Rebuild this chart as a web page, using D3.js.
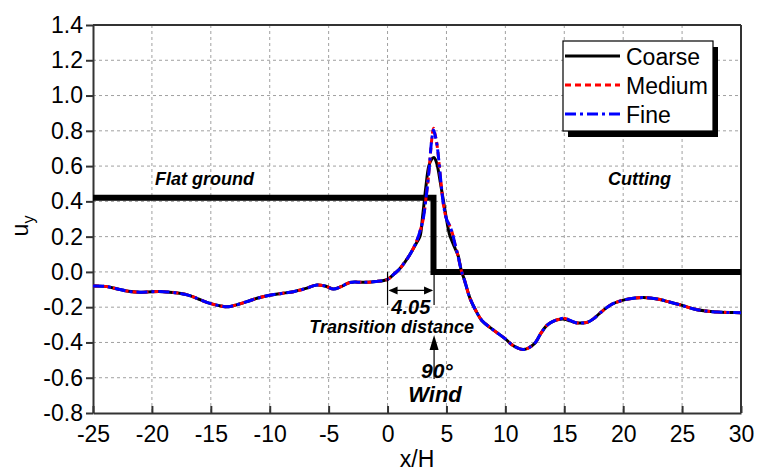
<!DOCTYPE html>
<html><head><meta charset="utf-8">
<script src="https://cdn.jsdelivr.net/npm/d3@7"></script>
<style>body{margin:0;background:#fff} svg{display:block} text{font-family:"Liberation Sans",Arial,Helvetica,sans-serif}</style>
</head><body><svg id="c" width="758" height="473"></svg>
<script>
// ---- data ----
const xValues = [-25,-24,-23,-22,-21,-20,-19,-18,-17,-16,-15,-14,-13.5,-13,-12,-11,-10,-9,-8,-7,-6,-5.3,-4.6,-4,-3.2,-2.5,-1.8,-1,0,0.5,1,1.5,2,2.5,2.75,3,3.25,3.5,3.75,3.9,4.0,4.2,4.5,4.75,5.0,5.25,5.5,5.75,6.0,6.25,6.5,7,7.5,8,9,10,10.5,11,11.5,12,12.5,13,13.5,14,14.5,15,15.5,16,16.5,17,17.5,18,19,20,21,22,23,24,25,26,27,28,29,30];
const coarse = [-0.08,-0.082,-0.095,-0.11,-0.115,-0.112,-0.112,-0.118,-0.13,-0.155,-0.18,-0.195,-0.198,-0.19,-0.17,-0.148,-0.132,-0.122,-0.112,-0.095,-0.074,-0.08,-0.097,-0.085,-0.06,-0.058,-0.059,-0.055,-0.042,-0.015,0.015,0.058,0.11,0.17,0.2,0.33,0.48,0.6,0.64,0.648,0.645,0.61,0.5,0.4,0.3,0.215,0.17,0.13,0.09,0.01,-0.04,-0.15,-0.22,-0.275,-0.33,-0.38,-0.41,-0.43,-0.44,-0.43,-0.405,-0.35,-0.305,-0.282,-0.27,-0.268,-0.278,-0.288,-0.29,-0.285,-0.265,-0.235,-0.185,-0.16,-0.148,-0.146,-0.155,-0.172,-0.19,-0.21,-0.222,-0.228,-0.23,-0.231];
const medium = [-0.08,-0.082,-0.095,-0.11,-0.115,-0.112,-0.112,-0.118,-0.13,-0.155,-0.18,-0.195,-0.198,-0.19,-0.17,-0.148,-0.132,-0.122,-0.112,-0.095,-0.074,-0.08,-0.097,-0.085,-0.06,-0.058,-0.059,-0.055,-0.042,-0.015,0.015,0.058,0.11,0.18,0.23,0.29,0.41,0.56,0.75,0.815,0.79,0.72,0.53,0.38,0.3,0.265,0.22,0.15,0.086,0.01,-0.04,-0.15,-0.22,-0.275,-0.33,-0.38,-0.41,-0.43,-0.44,-0.43,-0.405,-0.35,-0.305,-0.282,-0.27,-0.263,-0.275,-0.288,-0.29,-0.285,-0.265,-0.235,-0.185,-0.16,-0.148,-0.146,-0.155,-0.172,-0.19,-0.21,-0.222,-0.228,-0.23,-0.231];
const fine = [-0.08,-0.082,-0.095,-0.11,-0.115,-0.112,-0.112,-0.118,-0.13,-0.155,-0.18,-0.195,-0.198,-0.19,-0.17,-0.148,-0.132,-0.122,-0.112,-0.095,-0.074,-0.08,-0.097,-0.085,-0.06,-0.058,-0.059,-0.055,-0.042,-0.015,0.015,0.058,0.11,0.18,0.23,0.29,0.41,0.56,0.75,0.805,0.785,0.72,0.53,0.38,0.3,0.265,0.22,0.15,0.086,0.01,-0.04,-0.15,-0.22,-0.275,-0.33,-0.38,-0.41,-0.43,-0.44,-0.43,-0.405,-0.35,-0.305,-0.282,-0.27,-0.263,-0.275,-0.288,-0.29,-0.285,-0.265,-0.235,-0.185,-0.16,-0.148,-0.146,-0.155,-0.172,-0.19,-0.21,-0.222,-0.228,-0.23,-0.231];
const seriesNames = ["Coarse","Medium","Fine"];
const seriesColors = ["#000000","#ff0000","#0000ff"];
const seriesDash = [null,"6,4","11,4,3,4"];
const xTicks = [-25,-20,-15,-10,-5,0,5,10,15,20,25,30];
const yTicks = [-0.8,-0.6,-0.4,-0.2,0.0,0.2,0.4,0.6,0.8,1.0,1.2,1.4];
const stepX = [-25, 3.9, 3.9, 30];
const stepY = [0.42, 0.42, 0, 0];
const transitionStart = 0, transitionEnd = 3.95, transitionLabel = "4.05";

// ---- layout ----
const svg = d3.select("#c");
const L = 93, R = 741, T = 25, B = 413;
const x = d3.scaleLinear().domain([-25,30]).range([L,R]);
const y = d3.scaleLinear().domain([-0.8,1.4]).range([B,T]);
const font = '"Liberation Sans",Arial,sans-serif';

// grid
const grid = svg.append("g").attr("stroke","#a0a0a0").attr("stroke-width",1).attr("stroke-dasharray","3,3");
xTicks.slice(1,-1).forEach(t=>grid.append("line").attr("x1",x(t)).attr("x2",x(t)).attr("y1",T).attr("y2",B));
yTicks.slice(1,-1).forEach(t=>grid.append("line").attr("x1",L).attr("x2",R).attr("y1",y(t)).attr("y2",y(t)));

// axes
const ax = svg.append("g").attr("transform",`translate(0,${B})`)
  .call(d3.axisBottom(x).tickValues(xTicks).tickFormat(d=>String(d)).tickSizeInner(-7).tickSizeOuter(0).tickPadding(13));
const ay = svg.append("g").attr("transform",`translate(${L},0)`)
  .call(d3.axisLeft(y).tickValues(yTicks).tickFormat(d=>d.toFixed(1)).tickSizeInner(7).tickSizeOuter(0).tickPadding(3));
[ax,ay].forEach(a=>{
  a.select(".domain").attr("stroke","#333").attr("stroke-width",2);
  a.selectAll(".tick line").attr("stroke","#333").attr("stroke-width",2);
  a.selectAll(".tick text").attr("font-family",font).attr("font-size",23).attr("fill","#000");
});
// frame top/right
svg.append("line").attr("x1",L).attr("x2",R).attr("y1",T).attr("y2",T).attr("stroke","#333").attr("stroke-width",2);
svg.append("line").attr("x1",R).attr("x2",R).attr("y1",T).attr("y2",B).attr("stroke","#333").attr("stroke-width",2);

// step line
svg.append("path").datum(stepX.map((d,i)=>[d,stepY[i]]))
  .attr("d",d3.line().x(d=>x(d[0])).y(d=>y(d[1])))
  .attr("fill","none").attr("stroke","#000").attr("stroke-width",6).attr("stroke-linejoin","miter");

// curves
const line = d3.line().x(d=>x(d[0])).y(d=>y(d[1])).curve(d3.curveCatmullRom.alpha(0.5));
[coarse,medium,fine].forEach((vals,i)=>{
  svg.append("path").datum(xValues.map((xv,j)=>[xv,vals[j]]))
    .attr("d",line).attr("fill","none").attr("stroke",seriesColors[i])
    .attr("stroke-width",3).attr("stroke-dasharray",seriesDash[i]);
});

// annotations
const ann = svg.append("g").attr("font-family",font).attr("font-weight","bold").attr("font-style","italic").attr("fill","#000");
ann.append("text").attr("x",155).attr("y",185).attr("font-size",18).text("Flat ground");
ann.append("text").attr("x",608).attr("y",185).attr("font-size",18).text("Cutting");
const yLow = y(-0.188), yArr = y(-0.105);
svg.append("line").attr("x1",x(transitionStart)).attr("x2",x(transitionStart)).attr("y1",y(0)).attr("y2",yLow).attr("stroke","#000").attr("stroke-width",1.2);
svg.append("line").attr("x1",x(transitionEnd)).attr("x2",x(transitionEnd)).attr("y1",y(0)).attr("y2",yLow).attr("stroke","#000").attr("stroke-width",1.2);
svg.append("line").attr("x1",x(transitionStart)+2).attr("x2",x(transitionEnd)-2).attr("y1",yArr).attr("y2",yArr).attr("stroke","#000").attr("stroke-width",1.2);
const xa = x(transitionStart), xb = x(transitionEnd);
svg.append("path").attr("d",`M${xa+1},${yArr} L${xa+10},${yArr-4} L${xa+10},${yArr+4} Z`).attr("fill","#000");
svg.append("path").attr("d",`M${xb-1},${yArr} L${xb-10},${yArr-4} L${xb-10},${yArr+4} Z`).attr("fill","#000");
ann.append("text").attr("x",(xa+xb)/2).attr("y",314).attr("text-anchor","middle").attr("font-size",20).text(transitionLabel);
ann.append("text").attr("x",474).attr("y",333).attr("text-anchor","end").attr("font-size",18).text("Transition distance");
// wind arrow
svg.append("line").attr("x1",xb).attr("x2",xb).attr("y1",348).attr("y2",379).attr("stroke","#000").attr("stroke-width",1.2);
svg.append("path").attr("d",`M${xb},335 L${xb-4.5},350 L${xb+4.5},350 Z`).attr("fill","#000");
ann.append("text").attr("x",421).attr("y",378).attr("font-size",21).text("90°");
ann.append("text").attr("x",435).attr("y",402).attr("text-anchor","middle").attr("font-size",22).text("Wind");

// axis titles
svg.append("text").attr("x",(L+R)/2).attr("y",467).attr("text-anchor","middle")
  .attr("font-family",font).attr("font-size",23).text("x/H");
const yt = svg.append("text").attr("transform","translate(28,226) rotate(-90)").attr("text-anchor","middle")
  .attr("font-family",font).attr("font-size",23);
yt.append("tspan").text("u");
yt.append("tspan").attr("font-size",16).attr("dy",6).text("y");

// legend
const lg = svg.append("g");
lg.append("rect").attr("x",568).attr("y",47).attr("width",150).attr("height",90).attr("fill","#000");
lg.append("rect").attr("x",563).attr("y",41).attr("width",150).attr("height",90).attr("fill","#fff").attr("stroke","#000").attr("stroke-width",1.2);
const rowsY = [56,85,114];
seriesNames.forEach((n,i)=>{
  lg.append("line").attr("x1",565).attr("x2",620).attr("y1",rowsY[i]).attr("y2",rowsY[i])
    .attr("stroke",seriesColors[i]).attr("stroke-width",3).attr("stroke-dasharray",seriesDash[i]);
  lg.append("text").attr("x",626).attr("y",rowsY[i]+8.5).attr("font-family",font).attr("font-size",23).text(n);
});
</script></body></html>
